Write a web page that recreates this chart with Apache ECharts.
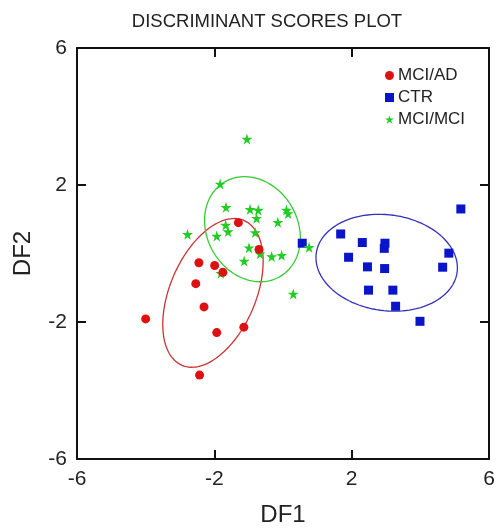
<!DOCTYPE html>
<html>
<head>
<meta charset="utf-8">
<script src="https://cdn.jsdelivr.net/npm/echarts@6/dist/echarts.min.js"></script>
<style>html,body{margin:0;padding:0;background:#fff}#c{width:498px;height:528px}</style>
</head>
<body>
<div id="c"></div>
<script>
const titleText = 'DISCRIMINANT SCORES PLOT';
const xTicks = [-6, -2, 2, 6];
const yTicks = [-6, -2, 2, 6];

const mciAdX = [-1.30, -0.70, -2.45, -1.99, -1.75, -2.54, -2.30, -4.00, -1.93, -1.14, -2.43];
const mciAdY = [0.90, 0.12, -0.27, -0.35, -0.55, -0.88, -1.56, -1.91, -2.31, -2.15, -3.55];

const ctrX = [0.56, 1.68, 2.31, 2.97, 2.95, 1.91, 2.46, 2.96, 4.83, 4.65, 2.49, 3.20, 3.28, 3.99, 5.18];
const ctrY = [0.30, 0.57, 0.32, 0.30, 0.15, -0.11, -0.39, -0.44, 0.01, -0.40, -1.07, -1.07, -1.54, -1.98, 1.30];

const mciMciX = [-1.05, -1.83, -1.66, -0.96, -0.72, 0.10, 0.15, -0.77, -0.15, -1.67, -2.78, -1.93, -1.60, -0.81, -0.99, -0.67, -0.33, -0.04, -1.13, -1.81, 0.76, 0.30];
const mciMciY = [3.34, 2.03, 1.35, 1.29, 1.27, 1.27, 1.17, 1.03, 0.91, 0.83, 0.56, 0.51, 0.64, 0.61, 0.17, -0.01, -0.09, -0.05, -0.22, -0.58, 0.18, -1.18];

// ellipse parameters: [centerX, centerY, semiMajor, semiMinor, angleDeg]
const ellipseAD = [-2.04, -1.15, 2.30, 1.25, 66.9];
const ellipseCTR = [3.02, -0.27, 2.07, 1.40, -7.7];
const ellipseMCI = [-0.89, 0.71, 1.60, 1.32, -60];

function zip(xs, ys) { return xs.map((x, i) => [x, ys[i]]); }
function ellipse(p) {
  const [cx, cy, a, b, deg] = p;
  const t = deg * Math.PI / 180, pts = [];
  for (let i = 0; i <= 120; i++) {
    const s = i / 120 * 2 * Math.PI;
    pts.push([cx + a * Math.cos(s) * Math.cos(t) - b * Math.sin(s) * Math.sin(t),
              cy + a * Math.cos(s) * Math.sin(t) + b * Math.sin(s) * Math.cos(t)]);
  }
  return pts;
}
const STAR = 'path://M50,0 L61,35 L98,35 L68,57 L79,91 L50,70 L21,91 L32,57 L2,35 L39,35 Z';
const FONT = 'Liberation Sans, Arial, sans-serif';

const chart = echarts.init(document.getElementById('c'));
const axisCommon = {
  min: -6, max: 6, interval: 4,
  axisLine: { show: true, onZero: false, lineStyle: { color: '#111', width: 2 } },
  axisTick: { show: true, inside: true, length: 9, lineStyle: { color: '#111', width: 2 } },
  splitLine: { show: false }
};
chart.setOption({
  animation: false,
  title: { text: titleText, left: 262, textAlign: 'center', top: 7,
    textStyle: { fontFamily: FONT, fontWeight: 'normal', fontSize: 18.5, color: '#222' } },
  grid: { left: 77, right: 9, top: 48, bottom: 69, containLabel: false, outerBoundsMode: 'none' },
  legend: {
    orient: 'vertical', left: 380, top: 62, itemGap: 5, itemWidth: 9, itemHeight: 9,
    textStyle: { fontFamily: FONT, fontSize: 17, color: '#222', padding: [0, 0, 0, -1] },
    data: [
      { name: 'MCI/AD', icon: 'circle' },
      { name: 'CTR', icon: 'rect' },
      { name: 'MCI/MCI', icon: STAR }
    ]
  },
  xAxis: [
    Object.assign({}, axisCommon, { type: 'value', position: 'bottom',
      name: 'DF1', nameLocation: 'middle', nameGap: 44,
      nameTextStyle: { fontFamily: FONT, fontSize: 24, color: '#222' },
      axisLabel: { fontFamily: FONT, fontSize: 21, color: '#222', margin: 10,
        formatter: v => String(v) } }),
    Object.assign({}, axisCommon, { type: 'value', position: 'top', axisLabel: { show: false } })
  ],
  yAxis: [
    Object.assign({}, axisCommon, { type: 'value', position: 'left',
      name: 'DF2', nameLocation: 'middle', nameGap: 42,
      nameTextStyle: { fontFamily: FONT, fontSize: 24, color: '#222' },
      axisLabel: { fontFamily: FONT, fontSize: 21, color: '#222', margin: 10,
        formatter: v => String(v) } }),
    Object.assign({}, axisCommon, { type: 'value', position: 'right', axisLabel: { show: false } })
  ],
  series: [
    { name: 'ellAD', type: 'line', data: ellipse(ellipseAD), showSymbol: false, silent: true,
      lineStyle: { color: '#cc3333', width: 1.3 }, z: 1 },
    { name: 'ellCTR', type: 'line', data: ellipse(ellipseCTR), showSymbol: false, silent: true,
      lineStyle: { color: '#3333bb', width: 1.3 }, z: 1 },
    { name: 'ellMCI', type: 'line', data: ellipse(ellipseMCI), showSymbol: false, silent: true,
      lineStyle: { color: '#33cc33', width: 1.3 }, z: 1 },
    { name: 'CTR', type: 'scatter', data: zip(ctrX, ctrY), symbol: 'rect', symbolSize: 9,
      itemStyle: { color: '#0a14c8', opacity: 1 }, z: 3 },
    { name: 'MCI/MCI', type: 'scatter', data: zip(mciMciX, mciMciY), symbol: STAR, symbolSize: 11,
      itemStyle: { color: '#22cc22', opacity: 1 }, z: 4 },
    { name: 'MCI/AD', type: 'scatter', data: zip(mciAdX, mciAdY), symbol: 'circle', symbolSize: 9,
      itemStyle: { color: '#dd1111', opacity: 1 }, z: 5 }
  ]
});
</script>
</body>
</html>
